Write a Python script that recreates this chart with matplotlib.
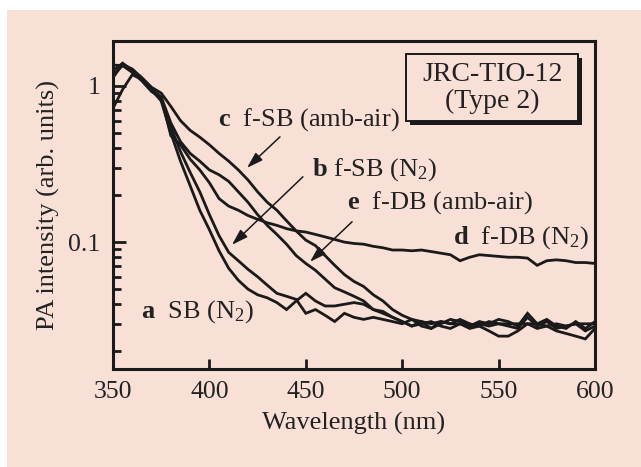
import matplotlib
matplotlib.use("Agg")
import matplotlib.pyplot as plt
import matplotlib.patheffects as pe
from matplotlib.patches import Rectangle
from matplotlib.ticker import FixedLocator, LogLocator, NullFormatter

plt.rcParams['font.family'] = ['Liberation Serif', 'DejaVu Serif']
plt.rcParams['mathtext.fontset'] = 'custom'
plt.rcParams['mathtext.rm'] = 'Liberation Serif'
plt.rcParams['mathtext.bf'] = 'Liberation Serif:bold'
plt.rcParams['mathtext.it'] = 'Liberation Serif:italic'

# DATA
wavelength = [350, 355, 360, 365, 370, 375, 380, 385, 390, 395,
              400, 405, 410, 415, 420, 425, 430, 435, 440, 445,
              450, 455, 460, 465, 470, 475, 480, 485, 490, 495,
              500, 505, 510, 515, 520, 525, 530, 535, 540, 545,
              550, 555, 560, 565, 570, 575, 580, 585, 590, 595, 600]

sb_n2 = [1.13, 1.38, 1.28, 1.10, 0.95, 0.80, 0.50, 0.33, 0.23, 0.16,
         0.12, 0.088, 0.068, 0.057, 0.050, 0.046, 0.044, 0.041, 0.037, 0.042,
         0.047, 0.042, 0.039, 0.039, 0.040, 0.041, 0.040, 0.037, 0.036, 0.033,
         0.031, 0.029, 0.031, 0.028, 0.030, 0.032, 0.031, 0.029, 0.031, 0.030,
         0.032, 0.031, 0.029, 0.035, 0.030, 0.032, 0.029, 0.028, 0.031, 0.028, 0.031]

fsb_n2 = [1.25, 1.40, 1.25, 1.08, 0.93, 0.82, 0.55, 0.38, 0.28, 0.21,
          0.15, 0.11, 0.086, 0.076, 0.067, 0.060, 0.053, 0.047, 0.045, 0.043,
          0.035, 0.037, 0.034, 0.031, 0.035, 0.033, 0.032, 0.033, 0.032, 0.031,
          0.030, 0.032, 0.029, 0.028, 0.031, 0.030, 0.032, 0.030, 0.029, 0.031,
          0.030, 0.029, 0.028, 0.033, 0.029, 0.031, 0.028, 0.029, 0.030, 0.027, 0.029]

fsb_air = [1.36, 1.35, 1.28, 1.13, 0.98, 0.90, 0.74, 0.60, 0.52, 0.47,
           0.42, 0.37, 0.33, 0.29, 0.25, 0.21, 0.18, 0.16, 0.137, 0.118,
           0.103, 0.095, 0.082, 0.071, 0.062, 0.056, 0.052, 0.046, 0.042, 0.037,
           0.034, 0.032, 0.031, 0.030, 0.031, 0.030, 0.030, 0.029, 0.030, 0.029,
           0.030, 0.030, 0.030, 0.030, 0.030, 0.029, 0.030, 0.029, 0.030, 0.030, 0.030]

fdb_n2 = [1.18, 1.35, 1.22, 1.08, 0.92, 0.85, 0.48, 0.42, 0.34, 0.29,
          0.24, 0.19, 0.17, 0.16, 0.148, 0.140, 0.133, 0.128, 0.122, 0.118,
          0.116, 0.112, 0.108, 0.104, 0.100, 0.098, 0.097, 0.094, 0.092, 0.089,
          0.089, 0.088, 0.089, 0.087, 0.085, 0.083, 0.076, 0.080, 0.083, 0.082,
          0.081, 0.080, 0.080, 0.079, 0.071, 0.076, 0.077, 0.076, 0.074, 0.074, 0.073]

fdb_air = [0.72, 0.95, 1.18, 1.10, 0.95, 0.85, 0.58, 0.44, 0.37, 0.33,
           0.29, 0.27, 0.245, 0.21, 0.18, 0.15, 0.128, 0.112, 0.097, 0.082,
           0.073, 0.066, 0.058, 0.051, 0.048, 0.045, 0.042, 0.037, 0.035, 0.033,
           0.031, 0.029, 0.030, 0.031, 0.029, 0.028, 0.030, 0.028, 0.029, 0.027,
           0.025, 0.025, 0.027, 0.030, 0.028, 0.029, 0.027, 0.026, 0.025, 0.024, 0.028]

x_ticks = [350, 400, 450, 500, 550, 600]
y_ticks = [0.1, 1]
y_ticklabels = ['0.1', '1']

BG = '#f8e0d6'
INK = '#1a1a1a'
TXT = '#222222'

fig = plt.figure(figsize=(6.41, 4.67), dpi=100)
fig.patches.append(Rectangle((7 / 641, 0), 1 - 7 / 641, 1 - 10 / 467,
                             transform=fig.transFigure, facecolor=BG,
                             edgecolor='none', zorder=-10))
ax = fig.add_axes([113 / 641, 1 - 369 / 467, 482 / 641, 328 / 467])
ax.set_facecolor(BG)

for series in [sb_n2, fsb_n2, fsb_air, fdb_n2, fdb_air]:
    ax.plot(wavelength, series, color=INK, lw=2.0, solid_joinstyle='miter')

ax.set_yscale('log')
ax.set_xlim(350, 600)
ax.set_ylim(0.0154, 1.94)

ax.xaxis.set_major_locator(FixedLocator(x_ticks))
ax.yaxis.set_major_locator(FixedLocator(y_ticks))
ax.set_yticklabels(y_ticklabels)
ax.yaxis.set_minor_locator(LogLocator(base=10, subs=range(2, 10)))
ax.yaxis.set_minor_formatter(NullFormatter())

ax.tick_params(axis='both', which='both', direction='in', colors=INK,
               labelcolor=TXT, labelsize=18.5, width=2)
ax.tick_params(axis='x', which='major', length=7, pad=9)
ax.tick_params(axis='y', which='major', length=9, pad=9)
ax.tick_params(axis='y', which='minor', length=6)
for sp in ax.spines.values():
    sp.set_linewidth(2.2)
    sp.set_color(INK)

ax.set_xlabel('Wavelength (nm)', fontsize=19, color=TXT, labelpad=6)
ax.set_ylabel('PA intensity (arb. units)', fontsize=19, color=TXT, labelpad=6)

# curve labels
lab = dict(fontsize=19, color=TXT, va='center', ha='left')
ax.text(404.5, 0.606, r'$\mathbf{c}$  f-SB (amb-air)', **lab)
ax.text(453, 0.290, r'$\mathbf{b}$ f-SB (N$_2$)', **lab)
ax.text(471.4, 0.178, r'$\mathbf{e}$  f-DB (amb-air)', **lab)
ax.text(526.3, 0.1065, r'$\mathbf{d}$  f-DB (N$_2$)', **lab)
ax.text(364.5, 0.0358, r'$\mathbf{a}$  SB (N$_2$)', **lab)

arrow = dict(arrowstyle='-|>,head_length=0.7,head_width=0.22', color=INK,
             lw=1.1, shrinkA=0, shrinkB=0, mutation_scale=14)
ax.annotate('', xy=(419.5, 0.299), xytext=(436.6, 0.472), arrowprops=arrow)
ax.annotate('', xy=(411.7, 0.0961), xytext=(448.5, 0.262), arrowprops=arrow)
ax.annotate('', xy=(452.2, 0.0748), xytext=(474.0, 0.135), arrowprops=arrow)

# sample box with shadow
box = Rectangle((0.608, 0.756), 0.357, 0.204, transform=ax.transAxes,
                facecolor=BG, edgecolor=INK, lw=1.4, zorder=5)
box.set_path_effects([pe.SimplePatchShadow(offset=(2.5, -2.5), shadow_rgbFace=INK, alpha=1),
                      pe.Normal()])
ax.add_patch(box)
ax.text(0.7865, 0.858, 'JRC-TIO-12\n(Type 2)', transform=ax.transAxes,
        ha='center', va='center', fontsize=20, color=TXT,
        linespacing=1.1, zorder=6)

fig.savefig('out.png', dpi=100, facecolor='white')
